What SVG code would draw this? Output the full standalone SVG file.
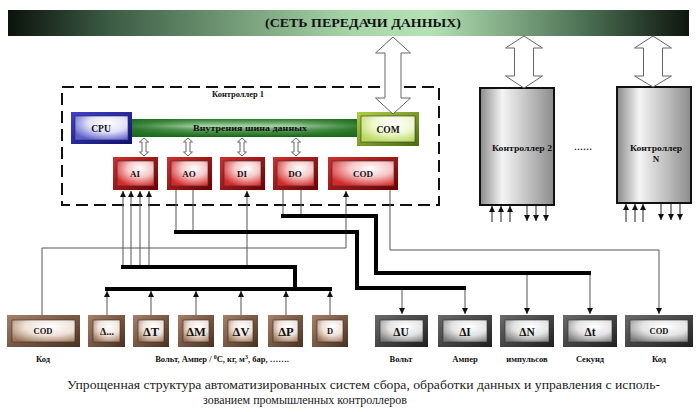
<svg xmlns="http://www.w3.org/2000/svg" width="700" height="412" viewBox="0 0 700 412">
<style>
.t{font-family:"Liberation Serif","Times New Roman",serif;font-weight:bold;fill:#111;text-anchor:middle}
.cap{font-family:"Liberation Serif","DejaVu Serif","Times New Roman",serif;fill:#222;font-size:12.5px}
.thin{fill:none;stroke:#555;stroke-width:1}
.thick{fill:none;stroke:#000;stroke-width:4;stroke-linejoin:miter}
.dbl{fill:#fff;stroke:#666;stroke-width:1}
.ar{fill:none;stroke:#222;stroke-width:1}
.in{stroke:#333;stroke-width:0.6}
</style>
<defs>
<linearGradient id="gBar" x1="0" y1="0" x2="1" y2="0">
<stop offset="0" stop-color="#0c120c"/><stop offset="0.15" stop-color="#3c5c44"/><stop offset="0.5" stop-color="#a6d4a6"/><stop offset="0.62" stop-color="#b4e2b4"/><stop offset="0.85" stop-color="#4a6e52"/><stop offset="1" stop-color="#0e160e"/>
</linearGradient>
<linearGradient id="gBus" x1="0" y1="0" x2="0" y2="1">
<stop offset="0" stop-color="#2a7a2a"/><stop offset="0.4" stop-color="#a8d4a8"/><stop offset="0.6" stop-color="#5e9e5e"/><stop offset="1" stop-color="#166616"/>
</linearGradient>
<linearGradient id="gBusH" x1="0" y1="0" x2="1" y2="0">
<stop offset="0" stop-color="#1a6a1a" stop-opacity="0.8"/><stop offset="0.3" stop-color="#1a6a1a" stop-opacity="0"/><stop offset="0.7" stop-color="#1a6a1a" stop-opacity="0"/><stop offset="1" stop-color="#1a6a1a" stop-opacity="0.8"/>
</linearGradient>
<linearGradient id="gCtl" x1="0" y1="0" x2="1" y2="0">
<stop offset="0" stop-color="#8a8a8a"/><stop offset="0.3" stop-color="#f4f4f4"/><stop offset="0.6" stop-color="#c8c8c8"/><stop offset="1" stop-color="#8c8c8c"/>
</linearGradient>
<linearGradient id="fRed" x1="0" y1="0" x2="1" y2="1"><stop offset="0" stop-color="#d03030"/><stop offset="1" stop-color="#6a0000"/></linearGradient>
<radialGradient id="iRed" cx="0.62" cy="0.3" r="0.75"><stop offset="0" stop-color="#ffffff"/><stop offset="0.45" stop-color="#f6c8c8"/><stop offset="1" stop-color="#d42a2a"/></radialGradient>
<linearGradient id="fBlue" x1="0" y1="0" x2="1" y2="1"><stop offset="0" stop-color="#4040d0"/><stop offset="1" stop-color="#101070"/></linearGradient>
<radialGradient id="iBlue" cx="0.62" cy="0.3" r="0.75"><stop offset="0" stop-color="#ffffff"/><stop offset="0.5" stop-color="#e0e0f8"/><stop offset="1" stop-color="#6060d0"/></radialGradient>
<linearGradient id="fGrn" x1="0" y1="0" x2="1" y2="1"><stop offset="0" stop-color="#b0d040"/><stop offset="1" stop-color="#4a6a10"/></linearGradient>
<radialGradient id="iGrn" cx="0.6" cy="0.3" r="0.75"><stop offset="0" stop-color="#ffffff"/><stop offset="0.5" stop-color="#f0f8d0"/><stop offset="1" stop-color="#b8d860"/></radialGradient>
<linearGradient id="fBrn" x1="0" y1="0" x2="1" y2="1"><stop offset="0" stop-color="#a88068"/><stop offset="1" stop-color="#4a3020"/></linearGradient>
<radialGradient id="iBrn" cx="0.6" cy="0.3" r="0.8"><stop offset="0" stop-color="#ffffff"/><stop offset="0.5" stop-color="#efe2d8"/><stop offset="1" stop-color="#9c7458"/></radialGradient>
<linearGradient id="fGry" x1="0" y1="0" x2="1" y2="1"><stop offset="0" stop-color="#6a6a6a"/><stop offset="1" stop-color="#202020"/></linearGradient>
<radialGradient id="iGry" cx="0.6" cy="0.3" r="0.8"><stop offset="0" stop-color="#ffffff"/><stop offset="0.5" stop-color="#e4e4e4"/><stop offset="1" stop-color="#7a7a7a"/></radialGradient>
<marker id="ah" viewBox="0 0 6 6" refX="6" refY="3" markerWidth="6" markerHeight="6" markerUnits="userSpaceOnUse" orient="auto"><path d="M0,0 L6,3 L0,6 z" fill="#111"/></marker>
</defs>

<g id="network">
<rect x="8" y="10" width="681" height="26" fill="url(#gBar)"/>
<text class="t" x="363" y="27" font-size="12" textLength="196" lengthAdjust="spacingAndGlyphs">(СЕТЬ ПЕРЕДАЧИ ДАННЫХ)</text>
</g>

<g id="controller1">
<rect x="62" y="87" width="377" height="118" fill="none" stroke="#111" stroke-width="2" stroke-dasharray="12 6"/>
<text class="t" x="238" y="97" font-size="9" textLength="52" lengthAdjust="spacingAndGlyphs">Контроллер 1</text>
</g>

<g id="bus">
<rect x="132" y="119" width="226" height="18" fill="url(#gBus)"/>
<rect x="132" y="119" width="226" height="18" fill="url(#gBusH)"/>
<text class="t" x="250" y="131" font-size="8.5" textLength="114" lengthAdjust="spacingAndGlyphs">Внутрения шина данных</text>
</g>

<g id="cpu">
<rect x="71" y="112" width="61" height="32" fill="url(#fBlue)"/>
<rect x="75" y="116" width="53" height="24" fill="url(#iBlue)" class="in"/>
<text class="t" x="101" y="131.5" font-size="9.5">CPU</text>
</g>
<g id="com">
<rect x="357" y="112" width="62" height="34" fill="url(#fGrn)"/>
<rect x="361" y="116" width="54" height="26" fill="url(#iGrn)" class="in"/>
<text class="t" x="388" y="132.5" font-size="9.5">COM</text>
</g>

<g id="ai"><rect x="113" y="157" width="45" height="33" fill="url(#fRed)"/><rect x="117" y="161" width="37" height="25" fill="url(#iRed)" class="in"/><text class="t" x="135" y="177" font-size="9">AI</text></g>
<g id="ao"><rect x="167" y="157" width="45" height="33" fill="url(#fRed)"/><rect x="171" y="161" width="37" height="25" fill="url(#iRed)" class="in"/><text class="t" x="189" y="177" font-size="9">AO</text></g>
<g id="di"><rect x="220" y="157" width="45" height="33" fill="url(#fRed)"/><rect x="224" y="161" width="37" height="25" fill="url(#iRed)" class="in"/><text class="t" x="242" y="177" font-size="9">DI</text></g>
<g id="do"><rect x="273" y="157" width="45" height="33" fill="url(#fRed)"/><rect x="277" y="161" width="37" height="25" fill="url(#iRed)" class="in"/><text class="t" x="295" y="177" font-size="9">DO</text></g>
<g id="cod-c1"><rect x="328" y="157" width="70" height="33" fill="url(#fRed)"/><rect x="332" y="161" width="62" height="25" fill="url(#iRed)" class="in"/><text class="t" x="363" y="177" font-size="9">COD</text></g>

<g id="controller2">
<rect x="480" y="88" width="74" height="117" fill="url(#gCtl)" stroke="#111" stroke-width="2"/>
<text class="t" x="522" y="151" font-size="9" textLength="60" lengthAdjust="spacingAndGlyphs">Контроллер 2</text>
</g>
<g id="ellipsis"><text class="t" x="583" y="150" font-size="9">……</text></g>
<g id="controllerN">
<rect x="617" y="87" width="74" height="116" fill="url(#gCtl)" stroke="#111" stroke-width="2"/>
<text class="t" x="656" y="151" font-size="9" textLength="52" lengthAdjust="spacingAndGlyphs">Контроллер</text>
<text class="t" x="656" y="162" font-size="9">N</text>
</g>

<g id="s-cod"><rect x="7" y="315" width="73" height="32" fill="url(#fBrn)"/><rect x="12" y="320" width="63" height="22" fill="url(#iBrn)" class="in"/><text class="t" x="43" y="334" font-size="8.5">COD</text></g>
<g id="s-d0"><rect x="88" y="315" width="37" height="32" fill="url(#fBrn)"/><rect x="93" y="320" width="27" height="22" fill="url(#iBrn)" class="in"/><text class="t" x="107" y="335" font-size="10">Δ...</text></g>
<g id="s-dt"><rect x="133" y="315" width="36" height="32" fill="url(#fBrn)"/><rect x="138" y="320" width="26" height="22" fill="url(#iBrn)" class="in"/><text class="t" x="151" y="336" font-size="12.5">ΔT</text></g>
<g id="s-dm"><rect x="178" y="315" width="36" height="32" fill="url(#fBrn)"/><rect x="183" y="320" width="26" height="22" fill="url(#iBrn)" class="in"/><text class="t" x="196" y="336" font-size="12.5">ΔM</text></g>
<g id="s-dv"><rect x="223" y="315" width="35" height="32" fill="url(#fBrn)"/><rect x="228" y="320" width="25" height="22" fill="url(#iBrn)" class="in"/><text class="t" x="241" y="336" font-size="12.5">ΔV</text></g>
<g id="s-dp"><rect x="268" y="315" width="35" height="32" fill="url(#fBrn)"/><rect x="273" y="320" width="25" height="22" fill="url(#iBrn)" class="in"/><text class="t" x="286" y="336" font-size="12.5">ΔP</text></g>
<g id="s-d"><rect x="312" y="315" width="36" height="32" fill="url(#fBrn)"/><rect x="317" y="320" width="26" height="22" fill="url(#iBrn)" class="in"/><text class="t" x="330" y="334" font-size="8.5">D</text></g>

<g id="a-du"><rect x="375" y="315" width="53" height="32" fill="url(#fGry)"/><rect x="380" y="320" width="43" height="22" fill="url(#iGry)" class="in"/><text class="t" x="401" y="335.5" font-size="11.5">ΔU</text></g>
<g id="a-di"><rect x="438" y="315" width="54" height="32" fill="url(#fGry)"/><rect x="443" y="320" width="44" height="22" fill="url(#iGry)" class="in"/><text class="t" x="465" y="335.5" font-size="11.5">ΔI</text></g>
<g id="a-dn"><rect x="500" y="315" width="54" height="32" fill="url(#fGry)"/><rect x="505" y="320" width="44" height="22" fill="url(#iGry)" class="in"/><text class="t" x="527" y="335.5" font-size="11.5">ΔN</text></g>
<g id="a-dtt"><rect x="563" y="315" width="54" height="32" fill="url(#fGry)"/><rect x="568" y="320" width="44" height="22" fill="url(#iGry)" class="in"/><text class="t" x="590" y="335.5" font-size="11.5">Δt</text></g>
<g id="a-cod"><rect x="625" y="315" width="68" height="32" fill="url(#fGry)"/><rect x="630" y="320" width="58" height="22" fill="url(#iGry)" class="in"/><text class="t" x="659" y="334" font-size="8.5">COD</text></g>

<g id="labels">
<text class="t" x="43" y="362" font-size="8.5" fill="#333">Код</text>
<text class="t" x="222" y="362" font-size="8.5">Вольт, Ампер / <tspan font-size="6" dy="-3">0</tspan><tspan dy="3">C, кг, м</tspan><tspan font-size="6" dy="-3">3</tspan><tspan dy="3">, бар, …….</tspan></text>
<text class="t" x="401" y="362" font-size="8.5">Вольт</text>
<text class="t" x="465" y="362" font-size="8.5">Ампер</text>
<text class="t" x="527" y="362" font-size="8.5">импульсов</text>
<text class="t" x="590" y="362" font-size="8.5">Секунд</text>
<text class="t" x="659" y="362" font-size="8.5">Код</text>
</g>

<g id="connectors">
<polygon class="dbl" points="393,37 410.5,53 401,53 401,98 410.5,98 393,114 375.5,98 385,98 385,53 375.5,53"/>
<polygon class="dbl" points="524,36 542.5,48 533.5,48 533.5,76 542.5,76 524,88 505.5,76 514.5,76 514.5,48 505.5,48"/>
<polygon class="dbl" points="653,36 671.5,48 662.5,48 662.5,76 671.5,76 653,87 634.5,76 643.5,76 643.5,48 634.5,48"/>
<polygon class="dbl" points="144,138 148.5,142 146,142 146,152 148.5,152 144,156 139.5,152 142,152 142,142 139.5,142"/>
<polygon class="dbl" points="188,138 192.5,142 190,142 190,152 192.5,152 188,156 183.5,152 186,152 186,142 183.5,142"/>
<polygon class="dbl" points="242,138 246.5,142 244,142 244,152 246.5,152 242,156 237.5,152 240,152 240,142 237.5,142"/>
<polygon class="dbl" points="296,138 300.5,142 298,142 298,152 300.5,152 296,156 291.5,152 294,152 294,142 291.5,142"/>

<path class="thin" d="M42,315 V248 H346 V191" marker-end="url(#ah)"/>
<path class="thin" d="M390,190 V250 H659 V314" marker-end="url(#ah)"/>
<path class="thin" d="M123,267 V191" marker-end="url(#ah)"/>
<path class="thin" d="M131,267 V191" marker-end="url(#ah)"/>
<path class="thin" d="M140,267 V191" marker-end="url(#ah)"/>
<path class="thin" d="M149,267 V191" marker-end="url(#ah)"/>
<path class="thin" d="M247,267 V191" marker-end="url(#ah)"/>
<path class="thin" d="M176,190 V232 M193,190 V232 M283,190 V216 M301,190 V216"/>

<path class="thick" d="M121,267 H295 V289"/>
<path class="thick" d="M105,289 H332"/>
<path class="thick" d="M174,232 H357 V288 H466"/>
<path class="thick" d="M281,216 H376 V273 H591"/>

<path class="thin" d="M107,315 V291" marker-end="url(#ah)"/>
<path class="thin" d="M151,315 V291" marker-end="url(#ah)"/>
<path class="thin" d="M196,315 V291" marker-end="url(#ah)"/>
<path class="thin" d="M241,315 V291" marker-end="url(#ah)"/>
<path class="thin" d="M286,315 V291" marker-end="url(#ah)"/>
<path class="thin" d="M330,315 V291" marker-end="url(#ah)"/>

<path class="thin" d="M402,290 V314" marker-end="url(#ah)"/>
<path class="thin" d="M465,290 V314" marker-end="url(#ah)"/>
<path class="thin" d="M527,275 V314" marker-end="url(#ah)"/>
<path class="thin" d="M590,275 V314" marker-end="url(#ah)"/>

<path class="ar" d="M492,222 V206" marker-end="url(#ah)"/>
<path class="ar" d="M501,222 V206" marker-end="url(#ah)"/>
<path class="ar" d="M510,222 V206" marker-end="url(#ah)"/>
<path class="ar" d="M527,206 V221" marker-end="url(#ah)"/>
<path class="ar" d="M536,206 V221" marker-end="url(#ah)"/>
<path class="ar" d="M546,206 V221" marker-end="url(#ah)"/>
<path class="ar" d="M626,222 V204" marker-end="url(#ah)"/>
<path class="ar" d="M635,222 V204" marker-end="url(#ah)"/>
<path class="ar" d="M643,222 V204" marker-end="url(#ah)"/>
<path class="ar" d="M661,204 V220" marker-end="url(#ah)"/>
<path class="ar" d="M671,204 V220" marker-end="url(#ah)"/>
<path class="ar" d="M680,204 V220" marker-end="url(#ah)"/>
</g>

<g id="caption">
<text class="cap" x="67" y="389" textLength="593" lengthAdjust="spacingAndGlyphs">Упрощенная структура автоматизированных систем сбора, обработки данных и управления с исполь-</text>
<text class="cap" x="203" y="404" textLength="204" lengthAdjust="spacingAndGlyphs">зованием промышленных контроллеров</text>
</g>
</svg>
